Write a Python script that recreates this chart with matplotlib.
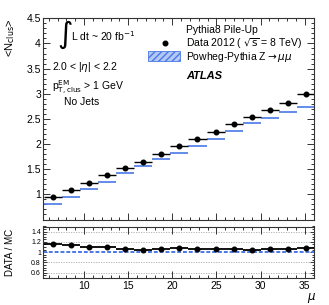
import numpy as np
import matplotlib
matplotlib.use("Agg")
import matplotlib.pyplot as plt
from matplotlib.ticker import MultipleLocator
from matplotlib.patches import Rectangle

# ---- data ----
mu_centers = [6.45, 8.5, 10.55, 12.6, 14.65, 16.7, 18.75, 20.8, 22.85, 24.9,
              26.95, 29.0, 31.05, 33.1, 35.15]
bin_half = 1.025
data_nclus = [0.947, 1.087, 1.226, 1.378, 1.518, 1.643, 1.81, 1.967, 2.10, 2.246,
              2.40, 2.535, 2.685, 2.82, 2.995]
mc_nclus = [0.808, 0.953, 1.106, 1.252, 1.418, 1.57, 1.70, 1.816, 1.961, 2.107,
            2.26, 2.41, 2.52, 2.637, 2.745]
ratio = [1.16, 1.14, 1.10, 1.10, 1.07, 1.05, 1.07, 1.08, 1.07, 1.065,
         1.06, 1.05, 1.065, 1.07, 1.09]
xticks = [10, 15, 20, 25, 30, 35]
ratio_yticks = [0.6, 0.8, 1.0, 1.2, 1.4]
ratio_ylabels = ["0.6", "0.8", "1", "1.2", "1.4"]

blue = "#4a78e8"
W, H = 329, 305
fig = plt.figure(figsize=(W / 100, H / 100), dpi=100)
plt.rcParams["font.family"] = ["Liberation Sans", "DejaVu Sans"]

def fx(px):
    return px / W

def fy(py):
    return 1 - py / H

x0, x1 = 43, 314
ax = fig.add_axes([fx(x0), fy(219.5), fx(x1) - fx(x0), fy(18.3) - fy(219.5)])
axr = fig.add_axes([fx(x0), fy(277.8), fx(x1) - fx(x0), fy(226.5) - fy(277.8)])

xlim = (5.35, 36.05)
for a in (ax, axr):
    a.set_xlim(*xlim)
    a.tick_params(which="both", direction="in", top=True, right=True, width=0.7,
                  color="#333333")
    a.tick_params(which="major", length=5)
    a.tick_params(which="minor", length=2.5)
    a.xaxis.set_major_locator(MultipleLocator(5))
    a.xaxis.set_minor_locator(MultipleLocator(1))
    for s in a.spines.values():
        s.set_linewidth(0.8)
        s.set_color("#333333")

# main panel
mu = np.array(mu_centers)
ax.hlines(mc_nclus, mu - bin_half, mu + bin_half, color=blue, lw=1.2, zorder=2)
ax.errorbar(mu, data_nclus, xerr=bin_half, fmt="o", color="black", ms=3.3,
            elinewidth=1.0, capsize=0, zorder=3)
ax.set_ylim(0.5, 4.5)
ax.yaxis.set_minor_locator(MultipleLocator(0.1))
ax.set_yticks([1, 1.5, 2, 2.5, 3, 3.5, 4, 4.5])
ax.set_yticklabels(["1", "1.5", "2", "2.5", "3", "3.5", "4", "4.5"])
ax.tick_params(axis="y", labelsize=7.5, pad=1.5)
ax.tick_params(axis="x", labelbottom=False)
ax.text(-0.12, 1.0, r"<N$_{\rm clus}$>", transform=ax.transAxes, rotation=90,
        ha="center", va="top", fontsize=8)

# annotations
fig.text(fx(57), fy(35), r"$\int$", fontsize=15, ha="left", va="center")
fig.text(fx(71), fy(36), r"L dt ~ 20 fb$^{-1}$", fontsize=7.5, ha="left", va="center")
fig.text(fx(52), fy(67), r"2.0 < |$\eta$| < 2.2", fontsize=7.5, ha="left", va="center")
fig.text(fx(52), fy(88), r"p$_{\rm T,clus}^{\rm EM}$ > 1 GeV", fontsize=7.5, ha="left", va="center")
fig.text(fx(64), fy(102), "No Jets", fontsize=7.5, ha="left", va="center")

fig.text(fx(186), fy(30), "Pythia8 Pile-Up", fontsize=7.5, ha="left", va="center")
fig.text(fx(186), fy(44), r"Data 2012 ( $\sqrt{\rm s}$ = 8 TeV)", fontsize=7.5,
         ha="left", va="center")
fig.text(fx(186), fy(57), r"Powheg-Pythia Z$\rightarrow\mu\mu$", fontsize=7.5,
         ha="left", va="center")
fig.text(fx(186), fy(76), "ATLAS", fontsize=8, ha="left", va="center",
         fontweight="bold", style="italic")
fig.lines.append(plt.Line2D([fx(165)], [fy(43)], marker="o", color="black", ms=3.3,
                            transform=fig.transFigure))
fig.patches.append(Rectangle((fx(148), fy(61)), fx(180) - fx(148), fy(51) - fy(61),
                             transform=fig.transFigure, facecolor="#b4c8f4",
                             edgecolor=blue, hatch="/////", lw=0.6))

# ratio panel
axr.set_ylim(0.5, 1.5)
for yv in [0.6, 0.8, 1.2, 1.4]:
    axr.axhline(yv, color="#aaaaaa", lw=0.6, ls=(0, (1.5, 1.5)), zorder=1)
axr.axhline(1.0, color=blue, lw=1.4, ls=(0, (2, 1)), zorder=2)
axr.errorbar(mu, ratio, xerr=bin_half, fmt="o", color="black", ms=3.3,
             elinewidth=1.3, capsize=0, zorder=3)
axr.set_yticks(ratio_yticks)
axr.set_yticklabels(ratio_ylabels)
axr.yaxis.set_minor_locator(MultipleLocator(0.05))
axr.tick_params(axis="y", labelsize=5, pad=1.5)
axr.tick_params(axis="x", labelsize=7.5, pad=2)
axr.tick_params(which="major", axis="y", length=3)
axr.tick_params(which="minor", axis="y", length=1.8)
axr.set_xticks(xticks)
axr.text(-0.12, 0.5, "DATA / MC", transform=axr.transAxes, rotation=90,
         ha="center", va="center", fontsize=7)
fig.text(fx(316), fy(298), r"$\mu$", fontsize=8.5, ha="right", va="center")

fig.savefig("out.png", dpi=100)
